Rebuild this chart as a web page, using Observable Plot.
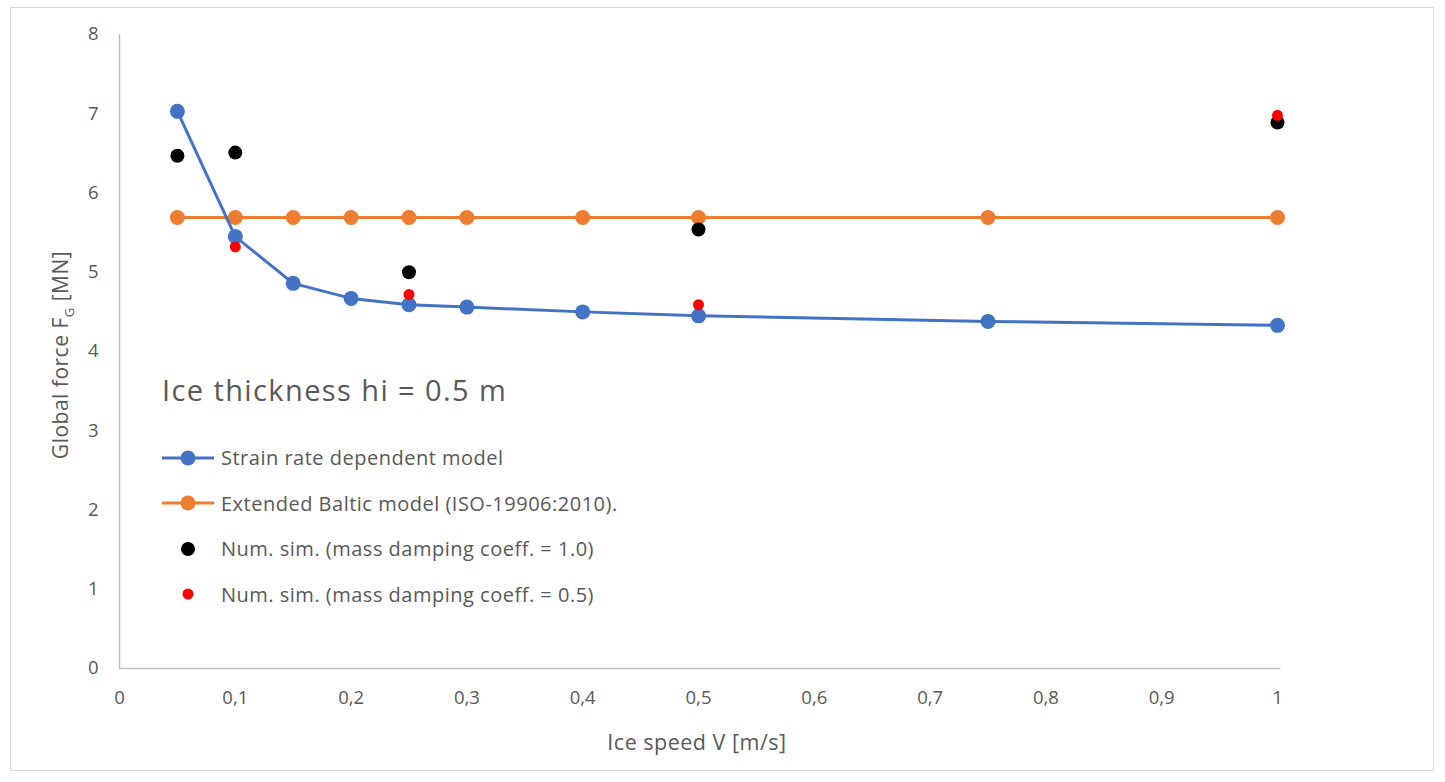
<!DOCTYPE html>
<html>
<head>
<meta charset="utf-8">
<script src="https://cdn.jsdelivr.net/npm/d3@7"></script>
<script src="https://cdn.jsdelivr.net/npm/@observablehq/plot@0.6"></script>
<style>
  body { margin: 0; background: #fff; font-family: "Open Sans", Lato, sans-serif; }
  #wrap { position: relative; width: 1445px; height: 782px; }
  #border { position: absolute; left: 10px; top: 7px; width: 1424px; height: 764px; border: 1.5px solid #d9d9d9; box-sizing: border-box; pointer-events: none; }
  .ov { position: absolute; color: #595959; white-space: nowrap; }
  #legend { position: absolute; left: 160px; top: 435px; }
  .row { display: flex; align-items: center; height: 45.5px; font-size: 20px; letter-spacing: 0.5px; color: #595959; }
  .row svg { margin-right: 5px; }
</style>
</head>
<body>
<div id="wrap">
  <div id="chart"></div>
  <div id="border"></div>
  <div class="ov" id="ytitle" style="left:62px; top:355px; font-size:21px; letter-spacing:0.5px; transform: translate(-50%,-50%) rotate(-90deg);">Global force F<sub style="font-size:13px">G</sub> [MN]</div>
  <div class="ov" id="xtitle" style="left:697px; top:741px; font-size:21.5px; letter-spacing:0.5px; transform: translate(-50%,-50%);">Ice speed V [m/s]</div>
  <div class="ov" id="annot" style="left:162px; top:370px; font-size:29px; letter-spacing:1.4px;">Ice thickness hi = 0.5 m</div>
  <div id="legend"></div>
</div>
<script>
// Data
const speeds = [0.05, 0.1, 0.15, 0.2, 0.25, 0.3, 0.4, 0.5, 0.75, 1];
const strainRateModel = [7.03, 5.45, 4.86, 4.67, 4.59, 4.56, 4.50, 4.45, 4.38, 4.33];
const balticModel = [5.69, 5.69, 5.69, 5.69, 5.69, 5.69, 5.69, 5.69, 5.69, 5.69];
const simSpeeds = [0.05, 0.1, 0.25, 0.5, 1];
const simDamping10 = [6.47, 6.51, 5.00, 5.54, 6.89];
const simSpeedsHalf = [0.1, 0.25, 0.5, 1];
const simDamping05 = [5.32, 4.72, 4.59, 6.98];
const xTicks = [0, 0.1, 0.2, 0.3, 0.4, 0.5, 0.6, 0.7, 0.8, 0.9, 1];
const yTicks = [0, 1, 2, 3, 4, 5, 6, 7, 8];
const seriesNames = [
  "Strain rate dependent model",
  "Extended Baltic model (ISO-19906:2010).",
  "Num. sim. (mass damping coeff. = 1.0)",
  "Num. sim. (mass damping coeff. = 0.5)"
];
const colors = ["#4472c4", "#ed7d31", "#000000", "#ff0000"];

const blue = speeds.map((x, i) => ({x, y: strainRateModel[i]}));
const orange = speeds.map((x, i) => ({x, y: balticModel[i]}));
const black = simSpeeds.map((x, i) => ({x, y: simDamping10[i]}));
const red = simSpeedsHalf.map((x, i) => ({x, y: simDamping05[i]}));

const fmt = d => String(d).replace(".", ",");

const chart = Plot.plot({
  width: 1445,
  height: 782,
  marginLeft: 119,
  marginRight: 168,
  marginTop: 34,
  marginBottom: 114,
  style: { fontFamily: "'Open Sans', Lato, sans-serif", fontSize: "18.5px", color: "#595959", background: "transparent" },
  x: { domain: [0, 1], ticks: xTicks, tickFormat: fmt, tickSize: 0, tickPadding: 22, label: null },
  y: { domain: [0, 8], ticks: yTicks, tickSize: 0, tickPadding: 21, label: null },
  marks: [
    Plot.ruleX([0], { stroke: "#bfbfbf", strokeWidth: 1.5 }),
    Plot.ruleY([0], { stroke: "#bfbfbf", strokeWidth: 1.5, x1: 0, x2: 1.003 }),
    Plot.line(orange, { x: "x", y: "y", stroke: colors[1], strokeWidth: 3 }),
    Plot.dot(orange, { x: "x", y: "y", fill: colors[1], r: 7.5 }),
    Plot.line(blue, { x: "x", y: "y", stroke: colors[0], strokeWidth: 3 }),
    Plot.dot(blue, { x: "x", y: "y", fill: colors[0], r: 7.5 }),
    Plot.dot(black, { x: "x", y: "y", fill: colors[2], r: 7 }),
    Plot.dot(red, { x: "x", y: "y", fill: colors[3], r: 5.5 })
  ]
});
document.getElementById("chart").appendChild(chart);

// Legend
const legend = document.getElementById("legend");
seriesNames.forEach((name, i) => {
  const row = document.createElement("div");
  row.className = "row";
  let icon;
  if (i < 2) {
    icon = `<svg width="56" height="20"><line x1="2" y1="10" x2="54" y2="10" stroke="${colors[i]}" stroke-width="3"/><circle cx="28" cy="10" r="7.5" fill="${colors[i]}"/></svg>`;
  } else {
    icon = `<svg width="56" height="20"><circle cx="28" cy="10" r="${i === 2 ? 7 : 5.5}" fill="${colors[i]}"/></svg>`;
  }
  row.innerHTML = icon + `<span>${name}</span>`;
  legend.appendChild(row);
});
</script>
</body>
</html>
